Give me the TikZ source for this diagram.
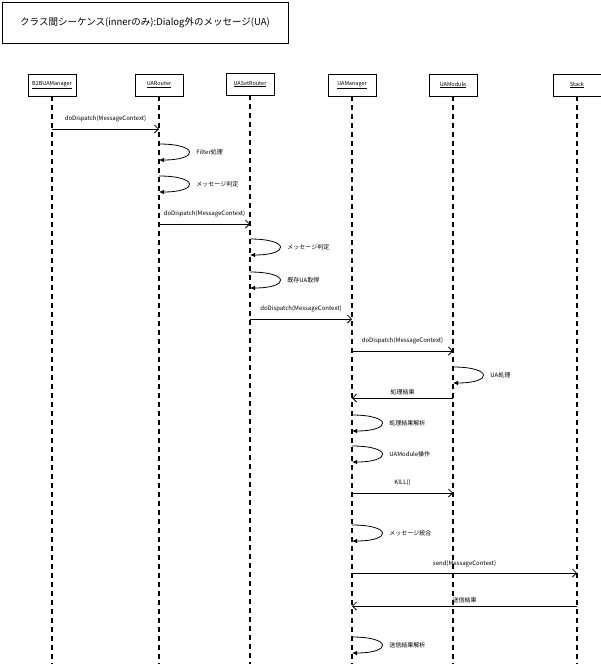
\documentclass[tikz,border=0pt]{standalone}
\usepackage{fontspec}
\setmainfont{Noto Sans CJK JP}
\usetikzlibrary{
    arrows,
    arrows.meta,
    calc,
}

\begin{document}
\begin{tikzpicture}[x=1pt, y=-1pt,
    title/.style = {draw, line width=0.8pt, minimum width=286pt, minimum height=41pt, font=\fontsize{9.5}{11}\selectfont},
    obj/.style = {draw, line width=0.9pt, minimum width=48pt, minimum height=22pt, inner sep=1pt, font=\fontsize{5.5}{6}\selectfont},
    life/.style = {dash pattern=on 5pt off 4pt, line width=1.1pt},
    call/.style = {-{Straight Barb[length=4pt,width=8pt]}, line width=0.8pt},
    self/.style = {-{Latex[length=5pt,width=4.5pt]}, line width=0.8pt},
    lbl/.style = {font=\fontsize{6}{7}\selectfont, inner sep=1pt}]
    \useasboundingbox (0,0) rectangle (601,664);
    \node[title] (t) at (145,22.5) {クラス間シーケンス(innerのみ):Dialog外のメッセージ(UA)};
    \node[obj] (b2b) at (52,85) {\underline{B2BUAManager}};
    \node[obj] (uar) at (159,85) {\underline{UARouter}};
    \node[obj] (uas) at (250,84) {\underline{UASetRouter}};
    \node[obj] (uam) at (352,85) {\underline{UAManager}};
    \node[obj] (mod) at (453,85) {\underline{UAModule}};
    \node[obj] (stk) at (577,85) {\underline{Stack}};
    \coordinate (bot) at (0,664);
    \draw[life] (b2b) -- (b2b |- bot);
    \draw[life] (uar) -- (uar |- bot);
    \draw[life] (uas) -- (uas |- bot);
    \draw[life] (uam) -- (uam |- bot);
    \draw[life] (mod) -- (mod |- bot);
    \draw[life] (stk) -- (stk |- bot);
    \coordinate (m1) at (0,129);
    \coordinate (s1) at (0,144);
    \coordinate (s2) at (0,176);
    \coordinate (m2) at (0,224);
    \coordinate (s3) at (0,239);
    \coordinate (s4) at (0,272);
    \coordinate (m3) at (0,319);
    \coordinate (m4) at (0,351);
    \coordinate (s5) at (0,367);
    \coordinate (m5) at (0,398);
    \coordinate (s6) at (0,415);
    \coordinate (s7) at (0,446);
    \coordinate (m6) at (0,493);
    \coordinate (s8) at (0,525);
    \coordinate (m7) at (0,573);
    \coordinate (m8) at (0,606);
    \coordinate (s9) at (0,637);
    \draw[call] (b2b |- m1) -- node[lbl, above=6pt] (l1) {doDispatch(MessageContext)} (uar |- m1);
    \draw[self] (uar |- s1) .. controls +(40,0) and +(40,0) .. node[lbl, right=6pt] (l2) {Filter処理} ++(0,16);
    \draw[self] (uar |- s2) .. controls +(40,0) and +(40,0) .. node[lbl, right=6pt] (l3) {メッセージ判定} ++(0,16);
    \draw[call] (uar |- m2) -- node[lbl, above=6pt] (l4) {doDispatch(MessageContext)} (uas |- m2);
    \draw[self] (uas |- s3) .. controls +(40,0) and +(40,0) .. node[lbl, right=6pt] (l5) {メッセージ判定} ++(0,16);
    \draw[self] (uas |- s4) .. controls +(40,0) and +(40,0) .. node[lbl, right=6pt] (l6) {既存UA取得} ++(0,16);
    \draw[call] (uas |- m3) -- node[lbl, above=6pt] (l7) {doDispatch(MessageContext)} (uam |- m3);
    \draw[call] (uam |- m4) -- node[lbl, above=6pt] (l8) {doDispatch(MessageContext)} (mod |- m4);
    \draw[self] (mod |- s5) .. controls +(40,0) and +(40,0) .. node[lbl, right=6pt] (l9) {UA処理} ++(0,16);
    \draw[call] (mod |- m5) -- node[lbl, above=2pt] (l10) {処理結果} (uam |- m5);
    \draw[self] (uam |- s6) .. controls +(40,0) and +(40,0) .. node[lbl, right=6pt] (l11) {処理結果解析} ++(0,16);
    \draw[self] (uam |- s7) .. controls +(40,0) and +(40,0) .. node[lbl, right=6pt] (l12) {UAModule操作} ++(0,16);
    \draw[call] (uam |- m6) -- node[lbl, above=6pt] (l13) {KILL()} (mod |- m6);
    \draw[self] (uam |- s8) .. controls +(40,0) and +(40,0) .. node[lbl, right=6pt] (l14) {メッセージ統合} ++(0,16);
    \draw[call] (uam |- m7) -- node[lbl, above=5pt] (l15) {send(MessageContext)} (stk |- m7);
    \draw[call] (stk |- m8) -- node[lbl, above=2pt] (l16) {送信結果} (uam |- m8);
    \draw[self] (uam |- s9) .. controls +(40,0) and +(40,0) .. node[lbl, right=6pt] (l17) {送信結果解析} ++(0,16);
\end{tikzpicture}
\end{document}
